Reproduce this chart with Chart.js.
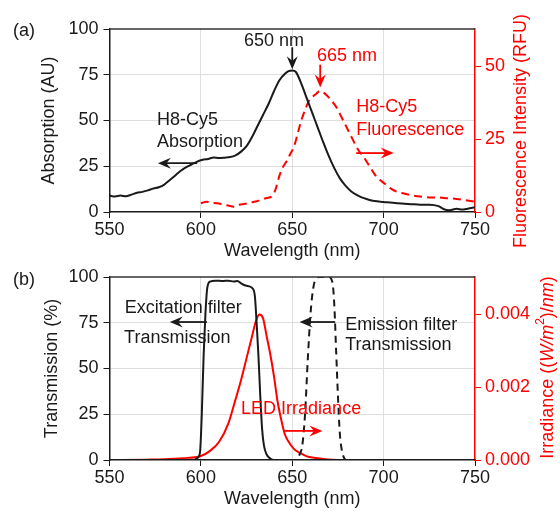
<!DOCTYPE html>
<html lang="en">
<head>
<meta charset="UTF-8">
<title>H8-Cy5 spectra and filters</title>
<script src="https://cdn.jsdelivr.net/npm/chart.js"></script>
<style>
  body { margin: 0; background: #fff; }
  #wrap { position: relative; width: 560px; height: 511px; }
  canvas { position: absolute; left: 0; }
  #panelA { top: 0; }
  #panelB { top: 248px; }
</style>
</head>
<body>
<div id="wrap">
  <canvas id="panelA" width="560" height="263"></canvas>
  <canvas id="panelB" width="560" height="263"></canvas>
</div>
<script>
// ---- data ----
const wavelengthTicks = [550, 600, 650, 700, 750];

// (a) absorption, AU
const absNm = [550, 553, 556, 559, 562, 565, 568, 571, 574, 577, 580, 583, 586, 589, 592, 595, 598, 601, 604, 607,
  610, 613, 616, 619, 622, 625, 628, 631, 634, 637, 640, 643, 646, 648, 650, 652, 655, 658, 661, 664, 667, 670,
  673, 676, 679, 682, 685, 688, 691, 695, 700, 705, 710, 715, 720, 725, 730, 733, 736, 740, 743, 746, 750];
const absAU = [9, 8.5, 9, 8.6, 9.5, 10.5, 11, 11.8, 12.8, 13.5, 15, 17.5, 20, 22.5, 24.5, 26, 27.5, 28.5, 29, 29.8,
  29.5, 29.7, 30, 31, 33, 36, 41, 47, 53, 59, 66, 72, 75.5, 77, 77.3, 76.5, 70, 62, 54, 46, 38, 30.5,
  24, 18.5, 14.5, 11.5, 9.5, 8, 7, 6, 5.5, 5, 4.6, 4.3, 4, 4, 3.2, 1.5, 1, 1.8, 1.3, 1.8, 2.6];

// (a) fluorescence, RFU
const fluNm = [600, 603, 606, 609, 612, 615, 618, 621, 624, 627, 630, 633, 636, 639, 641, 643, 645, 647, 649, 651,
  653, 655, 657, 659, 661, 663, 665, 667, 669, 671, 673, 675, 677, 679, 681, 683, 685, 687, 689, 691, 693, 695,
  697, 699, 701, 704, 707, 710, 715, 720, 725, 730, 735, 740, 745, 750];
const fluRFU = [3, 3.5, 3.2, 3, 2.6, 2.2, 1.8, 2.5, 2.8, 3.2, 3.6, 4.2, 4.8, 5.5, 8, 12.5, 15.5, 17.5, 20, 22.5,
  27, 31.5, 35, 38, 39.5, 40.5, 41.5, 41, 40, 38.5, 37, 35, 32.5, 30, 27.5, 25, 22.5, 20.5, 19, 17, 15, 13,
  11.5, 10.5, 9.5, 8, 7, 6.5, 5.8, 5.3, 5, 5, 4.7, 4.5, 4, 3.5];

// (b) excitation filter transmission, %
const excNm = [550, 596, 598, 599.5, 600.5, 601.5, 602.5, 603.5, 605, 608, 612, 615, 618, 620, 622, 624, 626, 628,
  629.5, 630.5, 631.5, 632.5, 633.5, 634.5, 636, 638, 640, 750];
const excPct = [0, 0, 1, 4, 25, 57, 80, 94, 97.5, 98, 97.8, 98, 97.5, 97.8, 96.5, 95.5, 95, 94,
  90, 75, 57, 35, 17, 8, 3, 0.8, 0, 0];

// (b) emission filter transmission, %
const emiNm = [550, 652, 654, 655.5, 657, 658.5, 660, 661.5, 663, 665, 670, 672, 673, 674, 675, 676, 677, 678, 679.5, 750];
const emiPct = [0, 0, 3, 8, 25, 55, 80, 94, 99, 100, 100, 97, 85, 60, 35, 15, 6, 2, 0, 0];

// (b) LED irradiance, (W/m^2)/nm
const ledNm = [550, 570, 580, 590, 600, 605, 610, 615, 618, 622, 625, 628, 630, 632, 634, 636, 638, 640, 642, 644,
  646, 648, 651, 654, 658, 662, 668, 675, 750];
const ledIrr = [0, 0.00001, 0.00002, 0.00005, 0.00011, 0.00025, 0.0005, 0.001, 0.0015, 0.0022, 0.0028, 0.0034,
  0.0038, 0.004, 0.0039, 0.0034, 0.0029, 0.0023, 0.0016, 0.0011, 0.0007, 0.0005, 0.0003, 0.0002, 0.0001,
  0.00006, 0.00002, 0, 0];

const leftTicks = [0, 25, 50, 75, 100];
const fluTicks = [0, 25, 50];
const irrTicks = [0, 0.002, 0.004];

// ---- look ----
const FONT = 'Arial, "Liberation Sans", sans-serif';
const INK = '#1a1a1a';
const RED = '#ff0000';
Chart.defaults.font.family = FONT;
Chart.defaults.font.size = 18;
Chart.defaults.color = INK;

const toPts = (xs, ys) => xs.map((x, i) => ({ x: x, y: ys[i] }));
const onlyTicks = list => scale => { scale.ticks = list.map(v => ({ value: v })); };
const edgeGrid = (lo, hi) => c => (c.tick && (c.tick.value === lo || c.tick.value === hi)) ? 'rgba(0,0,0,0)' : '#dedede';

function arrow(ctx, x1, y1, x2, y2, color) {
  const ang = Math.atan2(y2 - y1, x2 - x1);
  const head = 13, half = 5.5;
  ctx.save();
  ctx.strokeStyle = color;
  ctx.fillStyle = color;
  ctx.lineWidth = 1.8;
  ctx.beginPath();
  ctx.moveTo(x1, y1);
  ctx.lineTo(x2 - Math.cos(ang) * head * 0.6, y2 - Math.sin(ang) * head * 0.6);
  ctx.stroke();
  ctx.translate(x2, y2);
  ctx.rotate(ang);
  ctx.beginPath();
  ctx.moveTo(0, 0);
  ctx.lineTo(-head, -half);
  ctx.lineTo(-head * 0.65, 0);
  ctx.lineTo(-head, half);
  ctx.closePath();
  ctx.fill();
  ctx.restore();
}

// notes: text and arrows placed in data units (x nm, y on left axis)
const decor = {
  id: 'decor',
  afterDraw(chart, args, opts) {
    const ctx = chart.ctx, ca = chart.chartArea;
    const sx = chart.scales.x, sy = chart.scales.y;
    ctx.save();
    // top frame line
    ctx.strokeStyle = '#333';
    ctx.lineWidth = 1.5;
    ctx.beginPath();
    ctx.moveTo(ca.left, ca.top);
    ctx.lineTo(ca.right, ca.top);
    ctx.stroke();

    ctx.font = '18px ' + FONT;
    ctx.textBaseline = 'middle';
    ctx.fillStyle = INK;
    ctx.textAlign = 'left';
    ctx.fillText(opts.label, 13, opts.labelY);

    (opts.texts || []).forEach(t => {
      ctx.fillStyle = t.c;
      ctx.textAlign = t.a || 'left';
      ctx.fillText(t.s, sx.getPixelForValue(t.x), sy.getPixelForValue(t.y));
    });
    (opts.arrows || []).forEach(a => {
      arrow(ctx, sx.getPixelForValue(a.x1), sy.getPixelForValue(a.y1),
        sx.getPixelForValue(a.x2), sy.getPixelForValue(a.y2), a.c);
    });

    // right axis title, rotated, with optional italic / superscript pieces
    const rt = opts.rightTitle;
    if (rt) {
      let total = 0;
      rt.parts.forEach(p => { ctx.font = p[1] + ' ' + p[2] + 'px ' + FONT; total += ctx.measureText(p[0]).width; });
      ctx.translate(rt.x, rt.y);
      ctx.rotate(-Math.PI / 2);
      ctx.fillStyle = RED;
      ctx.textAlign = 'left';
      let pos = -total / 2;
      rt.parts.forEach(p => {
        ctx.font = p[1] + ' ' + p[2] + 'px ' + FONT;
        ctx.fillText(p[0], pos, p[3]);
        pos += ctx.measureText(p[0]).width;
      });
    }
    ctx.restore();
  }
};

function xAxis() {
  return {
    type: 'linear', min: 550, max: 750,
    afterBuildTicks: onlyTicks(wavelengthTicks),
    afterFit: s => { s.height = 51; },
    grid: { color: edgeGrid(550, 750), tickColor: INK, tickLength: 6, lineWidth: 1 },
    border: { color: INK, width: 1.5 },
    ticks: { padding: 1, color: INK, maxRotation: 0 },
    title: { display: true, text: 'Wavelength (nm)', color: INK, padding: { top: 0, bottom: 1 } }
  };
}

function leftAxis(title, pad) {
  return {
    position: 'left', min: 0, max: 100,
    afterBuildTicks: onlyTicks(leftTicks),
    afterFit: s => { s.width = 109.5; },
    grid: { color: edgeGrid(0, 100), tickColor: INK, tickLength: 6 },
    border: { color: INK, width: 1.5 },
    ticks: { padding: 5, color: INK },
    title: { display: true, text: title, color: INK, padding: { top: pad, bottom: 0 } }
  };
}

function rightAxis(max, list, fmt) {
  return {
    position: 'right', min: 0, max: max,
    afterBuildTicks: onlyTicks(list),
    afterFit: s => { s.width = 85; },
    grid: { drawOnChartArea: false, tickColor: RED, tickLength: 6 },
    border: { color: RED, width: 1.5 },
    ticks: { padding: 4, color: RED, callback: fmt },
    title: { display: false }
  };
}

const lineBase = { pointRadius: 0, borderWidth: 2, fill: false, cubicInterpolationMode: 'monotone' };

new Chart(document.getElementById('panelA'), {
  type: 'line',
  data: {
    datasets: [
      Object.assign({ label: 'H8-Cy5 Absorption', data: toPts(absNm, absAU), borderColor: INK, yAxisID: 'y', order: 1 }, lineBase),
      Object.assign({ label: 'H8-Cy5 Fluorescence', data: toPts(fluNm, fluRFU), borderColor: RED, borderDash: [8, 5],
        yAxisID: 'y1', order: 2 }, lineBase)
    ]
  },
  options: {
    responsive: false, animation: false, devicePixelRatio: 1,
    layout: { padding: { top: 29, left: 0, right: 0, bottom: 0 } },
    plugins: {
      legend: { display: false }, tooltip: { enabled: false },
      decor: {
        label: '(a)', labelY: 31,
        rightTitle: { x: 521, y: 131, parts: [['Fluorescence Intensity (RFU)', 'normal', 18, 0]] },
        texts: [
          { s: '650 nm', x: 640, y: 93.5, c: INK, a: 'center' },
          { s: '665 nm', x: 680, y: 85, c: RED, a: 'center' },
          { s: 'H8-Cy5', x: 576, y: 50, c: INK },
          { s: 'Absorption', x: 576, y: 38.5, c: INK },
          { s: 'H8-Cy5', x: 685, y: 57.5, c: RED },
          { s: 'Fluorescence', x: 685, y: 45, c: RED }
        ],
        arrows: [
          { x1: 650, y1: 90, x2: 650, y2: 78, c: INK },
          { x1: 665.3, y1: 80.5, x2: 665.3, y2: 68, c: RED },
          { x1: 598, y1: 26.7, x2: 576.5, y2: 26.7, c: INK },
          { x1: 685, y1: 32.2, x2: 705.5, y2: 32.2, c: RED }
        ]
      }
    },
    scales: {
      x: xAxis(),
      y: leftAxis('Absorption (AU)', 38),
      y1: rightAxis(62.8, fluTicks, v => String(v))
    }
  },
  plugins: [decor]
});

new Chart(document.getElementById('panelB'), {
  type: 'line',
  data: {
    datasets: [
      Object.assign({ label: 'Excitation filter', data: toPts(excNm, excPct), borderColor: INK, yAxisID: 'y', order: 1 }, lineBase),
      Object.assign({ label: 'Emission filter', data: toPts(emiNm, emiPct), borderColor: INK, borderDash: [7, 5],
        yAxisID: 'y', order: 2 }, lineBase),
      Object.assign({ label: 'LED Irradiance', data: toPts(ledNm, ledIrr), borderColor: RED, yAxisID: 'y1', order: 3 }, lineBase)
    ]
  },
  options: {
    responsive: false, animation: false, devicePixelRatio: 1,
    layout: { padding: { top: 29, left: 0, right: 0, bottom: 0 } },
    plugins: {
      legend: { display: false }, tooltip: { enabled: false },
      decor: {
        label: '(b)', labelY: 32,
        rightTitle: { x: 548, y: 119.5, parts: [
          ['Irradiance ((', 'normal', 18, 0], ['W/m', 'italic', 18, 0], ['2', 'normal', 12, -7],
          [')/', 'normal', 18, 0], ['nm', 'italic', 18, 0], [')', 'normal', 18, 0]
        ] },
        texts: [
          { s: 'Excitation filter', x: 558.3, y: 82.8, c: INK },
          { s: 'Transmission', x: 558, y: 66.9, c: INK },
          { s: 'Emission filter', x: 679, y: 74, c: INK },
          { s: 'Transmission', x: 679, y: 62.6, c: INK },
          { s: 'LED Irradiance', x: 622, y: 27.9, c: RED }
        ],
        arrows: [
          { x1: 603.3, y1: 75.4, x2: 583, y2: 75.4, c: INK },
          { x1: 673.5, y1: 75.4, x2: 654, y2: 75.4, c: INK },
          { x1: 645, y1: 15.9, x2: 666.5, y2: 15.9, c: RED }
        ]
      }
    },
    scales: {
      x: xAxis(),
      y: leftAxis('Transmission (%)', 41),
      y1: rightAxis(0.00503, irrTicks, v => v.toFixed(3))
    }
  },
  plugins: [decor]
});
</script>
</body>
</html>
